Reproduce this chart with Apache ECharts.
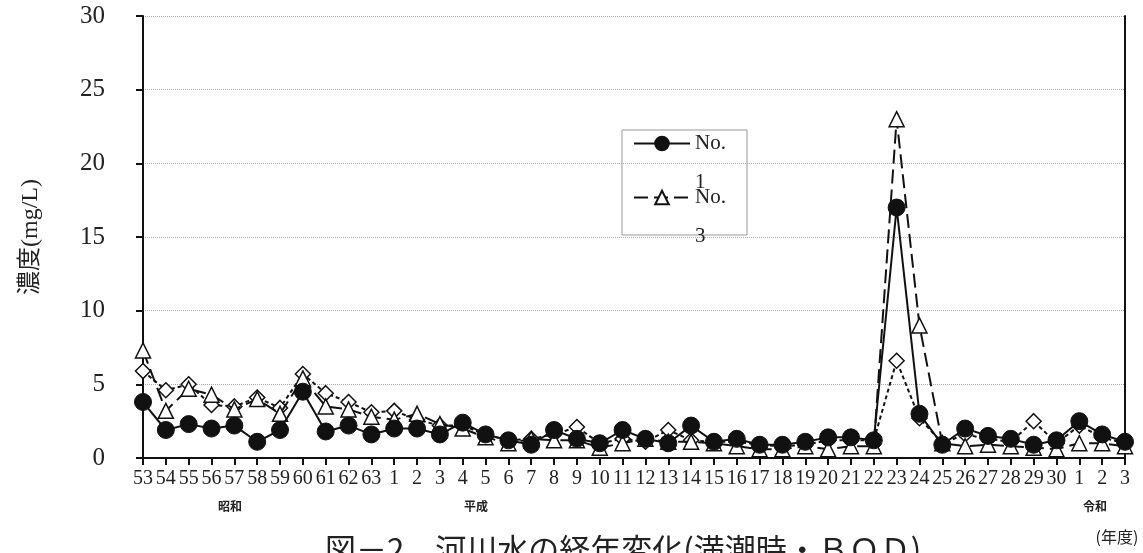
<!DOCTYPE html>
<html>
<head>
<meta charset="utf-8">
<script src="https://cdn.jsdelivr.net/npm/echarts@6/dist/echarts.min.js"></script>
<style>
html,body{margin:0;padding:0;background:#fff;}
#chart{width:1143px;height:553px;}
</style>
</head>
<body>
<div id="chart"></div>
<script>
const categories = ['53','54','55','56','57','58','59','60','61','62','63',
  '1','2','3','4','5','6','7','8','9','10','11','12','13','14','15','16','17','18','19','20','21','22','23','24','25','26','27','28','29','30',
  '1','2','3'];
const no1 = [3.8,1.9,2.3,2.0,2.2,1.1,1.9,4.5,1.8,2.2,1.6,
  2.0,2.0,1.6,2.4,1.6,1.2,0.9,1.9,1.3,1.0,1.9,1.3,1.0,2.2,1.1,1.3,0.9,0.9,1.1,1.4,1.4,1.2,17.0,3.0,0.9,2.0,1.5,1.3,0.9,1.2,
  2.5,1.6,1.1];
const no3 = [7.3,3.2,4.7,4.3,3.3,4.0,3.0,5.4,3.5,3.3,2.8,
  2.6,3.0,2.3,2.0,1.4,1.0,1.3,1.2,1.2,0.7,1.0,1.3,1.1,1.1,1.0,0.8,0.6,0.6,0.8,0.6,0.8,0.8,23.0,9.0,1.0,0.8,0.9,0.8,0.7,0.6,
  1.0,1.0,0.8];
const no2 = [5.9,4.6,5.0,3.6,3.5,4.1,3.4,5.7,4.4,3.8,3.1,
  3.2,2.6,2.2,2.2,1.6,1.2,1.3,1.6,2.1,1.0,1.3,1.1,1.9,1.2,1.1,1.1,0.9,0.8,0.9,1.2,1.2,1.2,6.6,2.7,1.0,1.6,1.3,1.1,2.5,1.0,
  2.2,1.4,1.0];
const yTicks = {min:0, max:30, interval:5};
const eraLabels = [{text:'昭和', x:230}, {text:'平成', x:476}, {text:'令和', x:1095}];
const titleText = '図－2　河川水の経年変化(満潮時・ＢＯＤ)';

const serif = '"Liberation Serif","DejaVu Serif","Noto Sans CJK JP",serif';
const chart = echarts.init(document.getElementById('chart'), null, {renderer:'canvas'});
const option = {
  animation:false,
  backgroundColor:'#fff',
  title:{text:titleText, left:320, top:529, textStyle:{fontFamily:'"Noto Sans CJK JP",sans-serif', fontSize:31, fontWeight:'normal', color:'#222'}},
  grid:{left:143, right:18, top:16, bottom:95, containLabel:false},
  legend:{
    data:['No.1','No.3'], orient:'vertical', left:628, top:80,
    itemWidth:56, itemHeight:17, itemGap:-63,
    formatter: n => n.replace('No.','\nNo.\n'),
    textStyle:{fontFamily:serif, fontSize:21, color:'#222', lineHeight:39}
  },
  graphic:[
    {type:'rect', shape:{x:622, y:130, width:125, height:105}, style:{fill:'#fff', stroke:'#999', lineWidth:1}, z:-1, silent:true},
    ...eraLabels.map(e=>({type:'text', x:e.x, y:500, style:{text:e.text, fontFamily:'"Noto Sans CJK JP",sans-serif', fontSize:12, fontWeight:'bold', fill:'#222', align:'center'}})),
    {type:'text', x:1117, y:529, style:{text:'(年度)', fontFamily:'"Noto Sans CJK JP",sans-serif', fontSize:16, fill:'#222', align:'center'}}
  ],
  xAxis:{
    type:'category', data:categories, boundaryGap:false,
    axisLine:{lineStyle:{color:'#111', width:2}},
    axisTick:{show:true, length:7, interval:0, lineStyle:{color:'#111', width:2}},
    axisLabel:{interval:0, margin:11, fontFamily:serif, fontSize:20, color:'#222'}
  },
  yAxis:[{
    type:'value', min:yTicks.min, max:yTicks.max, interval:yTicks.interval,
    name:'濃度(mg/L)', nameLocation:'middle', nameGap:100, nameRotate:90,
    nameTextStyle:{fontFamily:serif, fontSize:24, color:'#222'},
    axisLine:{show:true, lineStyle:{color:'#111', width:2}},
    axisTick:{show:true, length:7, lineStyle:{color:'#111', width:2}},
    axisLabel:{margin:38, fontFamily:serif, fontSize:25, color:'#222'},
    splitLine:{show:true, lineStyle:{color:'#aaa', type:'dotted', width:1}}
  },{
    type:'value', min:yTicks.min, max:yTicks.max, interval:yTicks.interval, position:'right',
    axisLine:{show:true, lineStyle:{color:'#111', width:2}},
    axisTick:{show:false}, axisLabel:{show:false}, splitLine:{show:false}
  }],
  series:[
    {name:'No.2', type:'line', data:no2, symbol:'diamond', symbolSize:15, z:2,
     lineStyle:{color:'#111', width:2, type:[4,3]},
     itemStyle:{color:'#fff', borderColor:'#111', borderWidth:1.5}},
    {name:'No.3', type:'line', data:no3, symbol:'triangle', symbolSize:15, z:3,
     lineStyle:{color:'#111', width:2, type:[14,6]},
     itemStyle:{color:'#fff', borderColor:'#111', borderWidth:1.5}},
    {name:'No.1', type:'line', data:no1, symbol:'circle', symbolSize:17, z:4,
     lineStyle:{color:'#111', width:2},
     itemStyle:{color:'#111', borderColor:'#111', borderWidth:1}}
  ]
};
chart.setOption(option);
</script>
</body>
</html>
